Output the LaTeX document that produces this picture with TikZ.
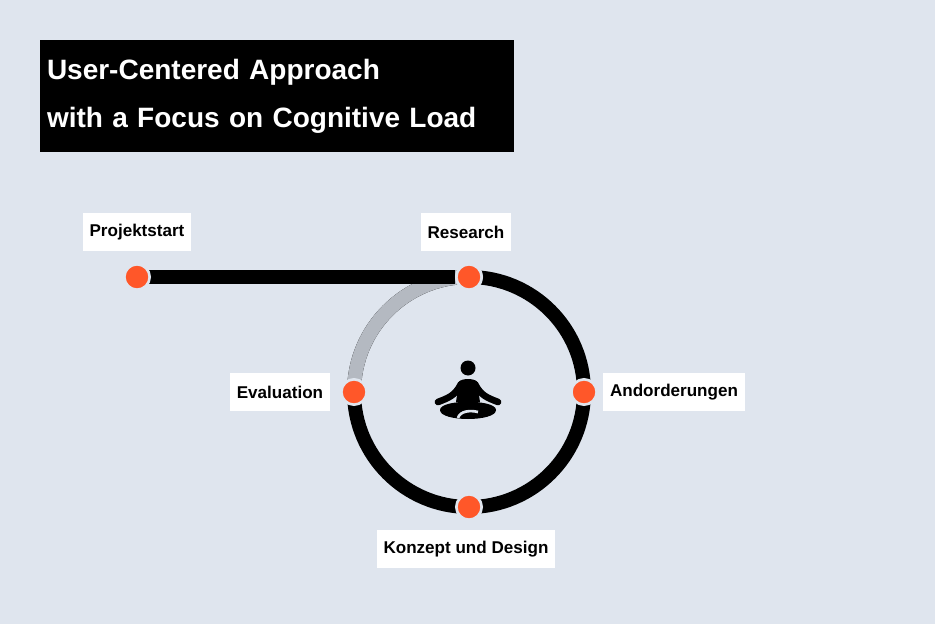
\documentclass[tikz,border=0pt]{standalone}
\usepackage{fontspec}
\setmainfont{Liberation Sans}
\definecolor{bgblue}{RGB}{223,229,238}
\definecolor{dotred}{RGB}{255,87,41}
\definecolor{arcgray}{RGB}{180,185,193}
\tikzset{every picture/.style={line width=0.75pt}}
\tikzset{
  lbl/.style={fill=white, font=\bfseries\fontsize{12.8}{14}\selectfont, inner xsep=5pt, minimum height=28.5pt},
  dot/.style={circle, fill=dotred, draw=bgblue, line width=2pt, minimum size=19pt, inner sep=0pt},
}
\begin{document}
\begin{tikzpicture}[x=0.75pt,y=0.75pt,yscale=-1,xscale=1]
%background
\fill [bgblue] (0,0) rectangle (935,624);
\useasboundingbox (0,0) rectangle (935,624);

%title
\node (title) [fill=black, text=white, font=\bfseries\fontsize{21}{36}\selectfont, align=left, minimum width=355.5pt, minimum height=84pt, text width=345pt, inner xsep=5pt] at (277,96) {User-Centered Approach\\with a Focus on Cognitive Load};

%ring
\draw [black, line width=10.5pt] (469,392) circle (115);
\draw [arcgray, line width=10.5pt] (354,392) arc (180:270:115);
\node (start) [dot] at (137,277) {};
\node (research) [dot] at (469,277) {};
\draw [black, line width=10.5pt] (start.center) -- (research.west);
\node (start) [dot] at (137,277) {};
\node (research) [dot] at (469,277) {};
\node (anford) [dot] at (584,392) {};
\node (konzept) [dot] at (469,507) {};
\node (eval) [dot] at (354,392) {};

%labels
\node (lstart) [lbl] at (137,232) {Projektstart};
\node (lresearch) [lbl] at (466,232) {Research};
\node (leval) [lbl] at (280,392) {Evaluation};
\node (lanford) [lbl] at (674,392) {Andorderungen};
\node (lkonzept) [lbl] at (466,549) {Konzept und Design};

%icon
\fill (468,368) circle (7.5);
\fill (459,382) .. controls (461,378) and (475,378) .. (477,382) -- (480,402) -- (456,402) -- cycle;
\draw [line width=5pt, line cap=round] (461,384) .. controls (455,396) and (448,398) .. (438,402);
\draw [line width=5pt, line cap=round] (475,384) .. controls (481,396) and (488,398) .. (498,402);
\fill (440,410) .. controls (440,399) and (496,399) .. (496,410) .. controls (496,422) and (440,422) .. (440,410) -- cycle;
\draw [bgblue, line width=2pt] (458,418) .. controls (460,411) and (470,410) .. (478,412);
\end{tikzpicture}
\end{document}
